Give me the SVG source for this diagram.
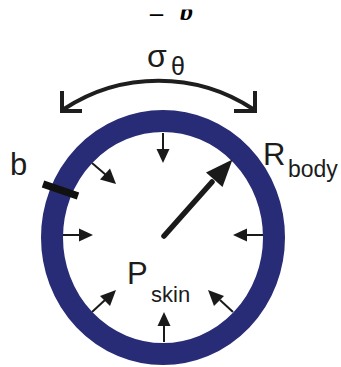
<svg xmlns="http://www.w3.org/2000/svg" width="341" height="367" viewBox="0 0 341 367">
<defs>
<style>
.lbl{font-family:"Liberation Sans",Arial,sans-serif;fill:#1c1c1c}
.ser{font-family:"Liberation Serif","Times New Roman",serif;fill:#000}
.sm{stroke:#1a1a1a;stroke-width:2;fill:none}
.hd{fill:#1a1a1a}
</style>
<clipPath id="topclip"><rect x="0" y="9.5" width="341" height="30"/></clipPath>
<marker id="ah" viewBox="0 0 10 10" refX="10" refY="5" markerWidth="6.5" markerHeight="6.5" markerUnits="strokeWidth" orient="auto">
<path d="M0,0 L10,5 L0,10 Z" fill="#1a1a1a"/>
</marker>
</defs>
<rect width="341" height="367" fill="#fff"/>
<g id="eq-fragment" clip-path="url(#topclip)">
<text class="ser" x="150" y="21" font-size="26" font-weight="bold">–</text>
<text class="ser" x="180" y="20" font-size="26" font-weight="bold" font-style="italic">b</text>
</g>
<g id="body">
<ellipse cx="163" cy="237.5" rx="111" ry="116.5" fill="none" stroke="#282c76" stroke-width="22"/>
</g>
<g id="connectors">
<line class="sm" x1="163" y1="133" x2="163" y2="150" />
<path class="hd" d="M156.5,149 L169.5,149 L163,163 Z"/>
<line class="sm" x1="63" y1="235" x2="80" y2="235"/>
<path class="hd" d="M79,228.5 L79,241.5 L93,235 Z"/>
<line class="sm" x1="263" y1="235" x2="246" y2="235"/>
<path class="hd" d="M247,228.5 L247,241.5 L233,235 Z"/>
<line class="sm" x1="164" y1="342" x2="164" y2="325"/>
<path class="hd" d="M157.5,326 L170.5,326 L164,312 Z"/>
<line class="sm" x1="92" y1="163" x2="106" y2="175"/>
<path class="hd" d="M100,179.5 L110,168.5 L116,184 Z"/>
<line class="sm" x1="92" y1="312" x2="105" y2="300"/>
<path class="hd" d="M100,296 L110,306 L116,290 Z"/>
<line class="sm" x1="233" y1="312" x2="220" y2="300"/>
<path class="hd" d="M224,296 L214,306 L208,290 Z"/>
<line x1="164" y1="236" x2="212" y2="182" stroke="#1a1a1a" stroke-width="5.5" stroke-linecap="round"/>
<path class="hd" d="M232.5,159.5 L222.5,187 L206,172.5 Z"/>
<path d="M64,109 A172 172 0 0 1 253,109" fill="none" stroke="#1e1e1e" stroke-width="4"/>
<path d="M62,91 L62,111 L82,111" fill="none" stroke="#1e1e1e" stroke-width="4"/>
<path d="M255,91 L255,111 L234,111" fill="none" stroke="#1e1e1e" stroke-width="4"/>
<line x1="43" y1="184" x2="78" y2="196" stroke="#111" stroke-width="7.5"/>
</g>
<g id="labels">
<text class="lbl" x="147" y="67" font-size="32">σ</text>
<text class="lbl" x="171" y="75" font-size="25">θ</text>
<text class="lbl" x="10" y="175" font-size="31">b</text>
<text class="lbl" x="263" y="165" font-size="31">R</text>
<text class="lbl" x="288" y="177" font-size="23">body</text>
<text class="lbl" x="127" y="284" font-size="31">P</text>
<text class="lbl" x="151" y="302" font-size="22">skin</text>
</g>
</svg>
